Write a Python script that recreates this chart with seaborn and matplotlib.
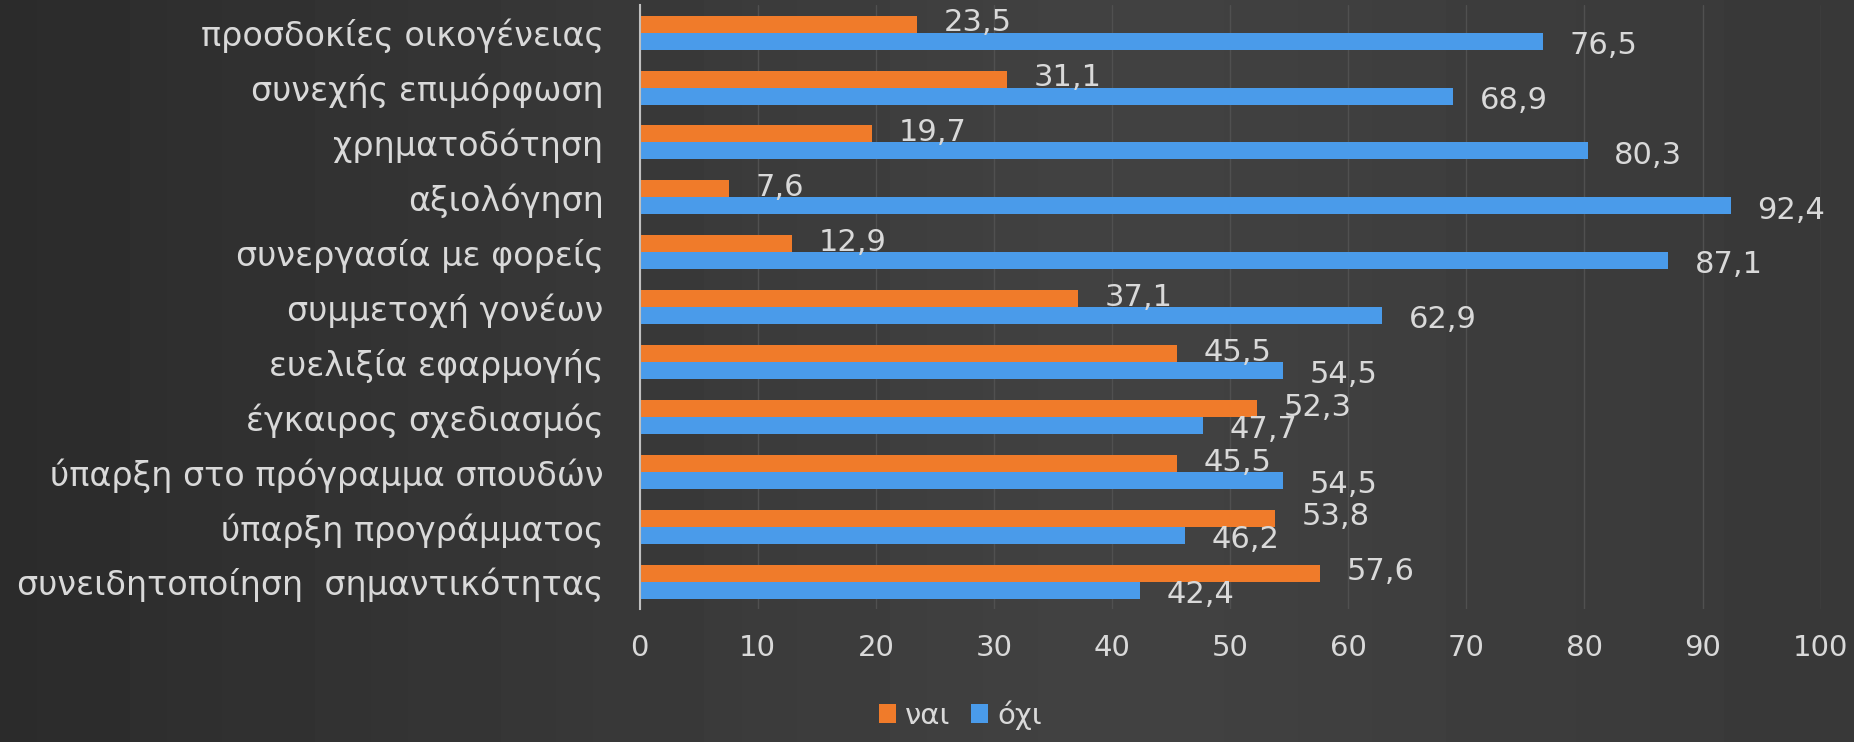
import numpy as np
import pandas as pd
import seaborn as sns
import matplotlib.pyplot as plt

# Δεδομένα (%)
katigories = [
    "προσδοκίες οικογένειας",
    "συνεχής επιμόρφωση",
    "χρηματοδότηση",
    "αξιολόγηση",
    "συνεργασία με φορείς",
    "συμμετοχή γονέων",
    "ευελιξία εφαρμογής",
    "έγκαιρος σχεδιασμός",
    "ύπαρξη στο πρόγραμμα σπουδών",
    "ύπαρξη προγράμματος",
    "συνειδητοποίηση  σημαντικότητας",
]
nai = [23.5, 31.1, 19.7, 7.6, 12.9, 37.1, 45.5, 52.3, 45.5, 53.8, 57.6]
oxi = [76.5, 68.9, 80.3, 92.4, 87.1, 62.9, 54.5, 47.7, 54.5, 46.2, 42.4]
apantiseis = ["ναι", "όχι"]
xroma = {"ναι": "#F07B2A", "όχι": "#4A9BEA"}

df = pd.concat([
    pd.DataFrame({"katigoria": katigories, "timi": nai, "apantisi": "ναι"}),
    pd.DataFrame({"katigoria": katigories, "timi": oxi, "apantisi": "όχι"}),
])

sns.set_style("dark")
plt.rcParams["font.family"] = ["DejaVu Sans"]
keimeno = "#D9D9D9"

fig = plt.figure(figsize=(18.54, 7.42), dpi=100)

# φόντο με διαβάθμιση
bg = fig.add_axes([0, 0, 1, 1], zorder=-10)
grad = np.concatenate([np.linspace(0.17, 0.26, 60), np.linspace(0.26, 0.22, 40)])
bg.imshow(np.tile(grad, (10, 1)), aspect="auto", cmap="gray", vmin=0, vmax=1,
          extent=[0, 1, 0, 1])
bg.axis("off")

ax = fig.add_axes([0.345, 0.179, 0.637, 0.814])
ax.patch.set_alpha(0)
sns.barplot(data=df, y="katigoria", x="timi", hue="apantisi", hue_order=apantiseis,
            palette=xroma, saturation=1, orient="h", width=0.62, ax=ax, zorder=3,
            edgecolor="none", legend=True)

for cont, ap in zip(ax.containers, apantiseis):
    dy = 1 if ap == "ναι" else -3
    for rect in cont:
        v = rect.get_width()
        ax.annotate(f"{v:.1f}".replace(".", ","),
                    (v, rect.get_y() + rect.get_height() / 2),
                    xytext=(19, dy), textcoords="offset points",
                    ha="left", va="center", color=keimeno, fontsize=22)

ax.set_xlim(0, 100)
ax.set_xticks(range(0, 101, 10))
ax.set_xlabel("")
ax.set_ylabel("")
ax.tick_params(axis="x", colors=keimeno, labelsize=21, length=0, pad=18)
ax.tick_params(axis="y", colors=keimeno, labelsize=24, length=0, pad=26)
ax.grid(axis="x", color="#505050", linewidth=1, zorder=0)
ax.grid(axis="y", visible=False)
for s in ["top", "right", "bottom"]:
    ax.spines[s].set_visible(False)
ax.spines["left"].set_color("#BFBFBF")
ax.spines["left"].set_linewidth(1.5)
ax.spines["left"].set_zorder(5)

ax.legend_.remove()
handles, labels = ax.get_legend_handles_labels()
fig.legend(handles, labels, loc="center", bbox_to_anchor=(0.518, 0.036),
           ncol=2, frameon=False, fontsize=21, labelcolor=keimeno,
           handlelength=0.6, handleheight=0.6, handletextpad=0.3, columnspacing=0.7)

fig.savefig("out.png", dpi=100, facecolor=fig.get_facecolor())
